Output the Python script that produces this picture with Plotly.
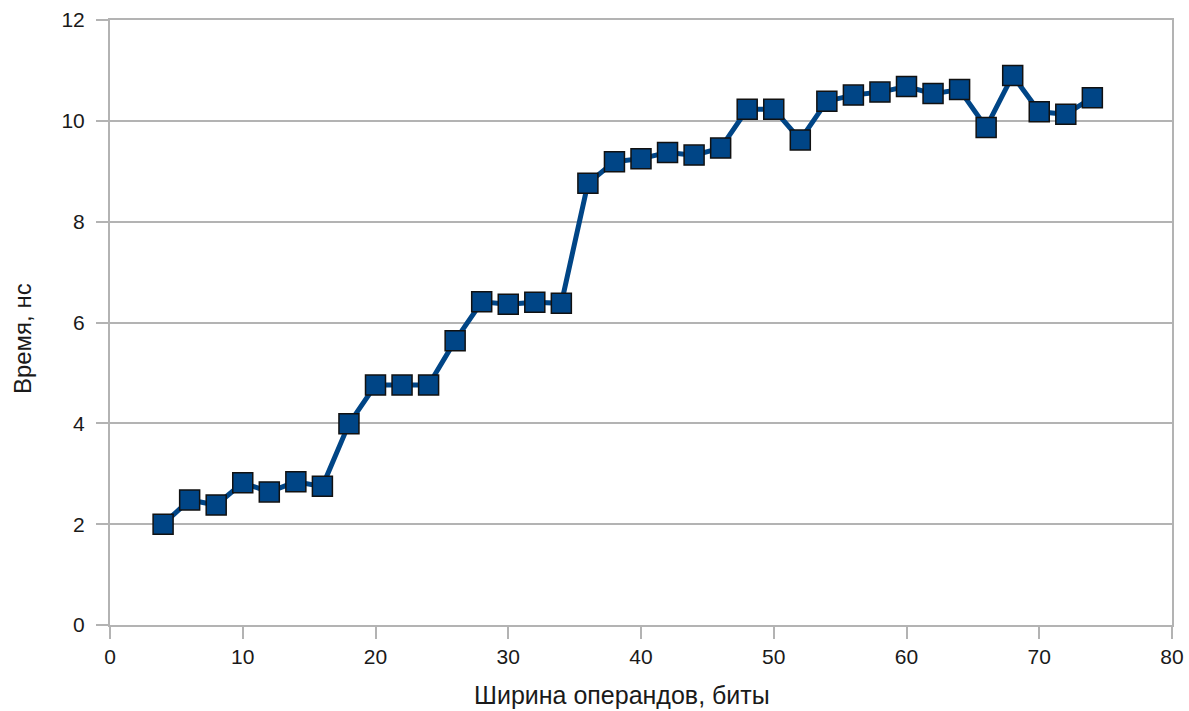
import plotly.graph_objects as go

# Operand width (bits) and measured delay (ns)
widths = [4, 6, 8, 10, 12, 14, 16, 18, 20, 22, 24, 26, 28, 30, 32, 34,
          36, 38, 40, 42, 44, 46, 48, 50, 52, 54, 56, 58, 60, 62, 64, 66,
          68, 70, 72, 74]
delay_ns = [2.00, 2.48, 2.38, 2.82, 2.64, 2.84, 2.75, 3.99, 4.76, 4.76,
            4.76, 5.64, 6.41, 6.36, 6.40, 6.38, 8.76, 9.19, 9.25, 9.37,
            9.32, 9.46, 10.23, 10.23, 9.62, 10.39, 10.51, 10.57, 10.68,
            10.54, 10.62, 9.87, 10.90, 10.18, 10.13, 10.46]

x_ticks = [0, 10, 20, 30, 40, 50, 60, 70, 80]
y_ticks = [0, 2, 4, 6, 8, 10, 12]

x_title = "Ширина операндов, биты"
y_title = "Время, нс"

LINE_BLUE = "#004586"
GRID = "#b3b3b3"
TEXT = "#1a1a1a"
FONT = "Liberation Sans, Arial, sans-serif"

fig = go.Figure()
fig.add_trace(go.Scatter(
    x=widths,
    y=delay_ns,
    mode="lines+markers",
    line=dict(color=LINE_BLUE, width=5),
    marker=dict(symbol="square", size=20, color=LINE_BLUE,
                line=dict(color="#111111", width=1.5)),
    showlegend=False,
))

fig.update_layout(
    width=1189,
    height=711,
    margin=dict(l=110, r=17, t=20, b=86),
    paper_bgcolor="white",
    plot_bgcolor="white",
    font=dict(family=FONT, size=21, color=TEXT),
)

axis_common = dict(
    automargin=False,
    zeroline=False,
    showline=True,
    linecolor=GRID,
    linewidth=2,
    mirror=True,
    ticks="outside",
    ticklen=12,
    tickcolor=GRID,
    tickwidth=1.5,
    tickfont=dict(family=FONT, size=21, color=TEXT),
)

fig.update_xaxes(range=[0, 80], tickvals=x_ticks, showgrid=False,
                 ticklabelstandoff=0, **axis_common)
fig.update_yaxes(range=[0, 12], tickvals=y_ticks, showgrid=True,
                 gridcolor=GRID, gridwidth=1.5, ticklabelstandoff=7,
                 **axis_common)

# Axis titles placed as annotations in paper coordinates
fig.add_annotation(text=x_title, xref="paper", yref="paper",
                   x=0.482, y=-0.115, xanchor="center", yanchor="middle",
                   showarrow=False, font=dict(family=FONT, size=25, color=TEXT))
fig.add_annotation(text=y_title, xref="paper", yref="paper",
                   x=-0.083, y=0.474, xanchor="center", yanchor="middle",
                   textangle=-90, showarrow=False,
                   font=dict(family=FONT, size=24, color=TEXT))

fig.write_html("out.html")
